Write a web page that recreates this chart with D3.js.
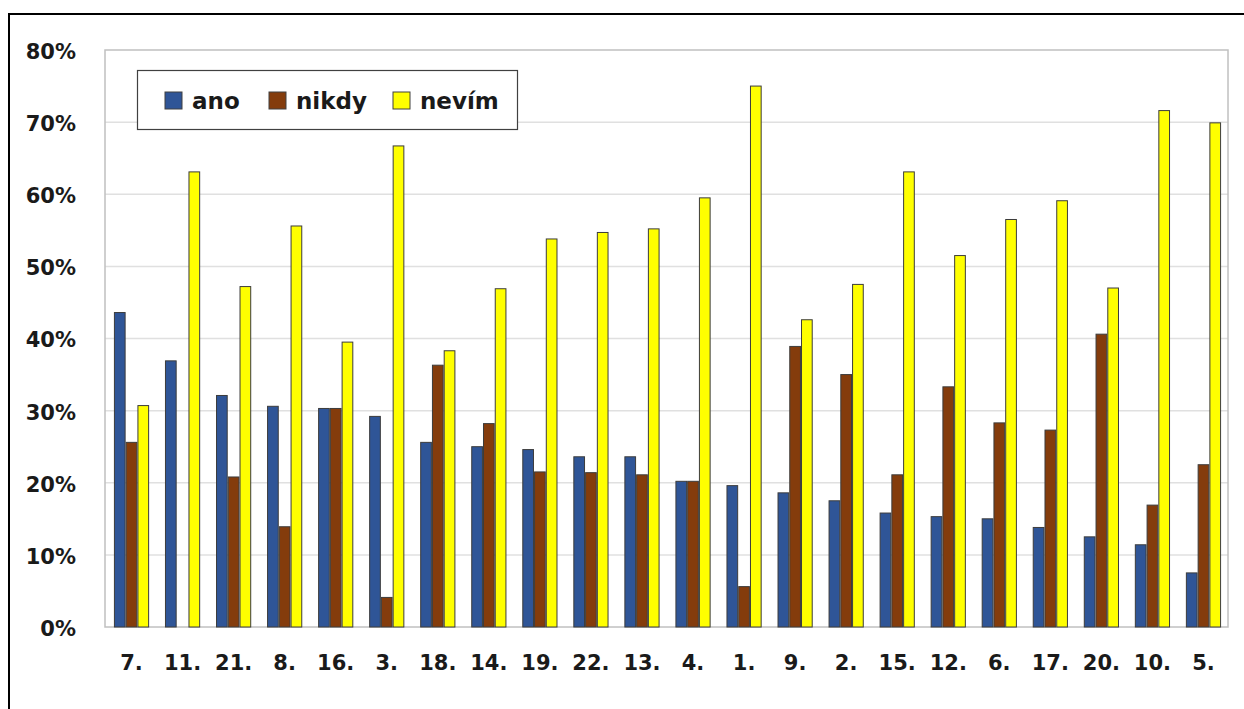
<!DOCTYPE html>
<html><head><meta charset="utf-8">
<script src="https://cdn.jsdelivr.net/npm/d3@7"></script>
<style>
html,body{margin:0;padding:0;background:#fff;}
svg{display:block;}
text{font-family:"DejaVu Sans",Verdana,sans-serif;font-weight:bold;fill:#1a1a1a;}
</style></head>
<body>
<svg id="chart" width="1244" height="709"></svg>
<script>
const categories = ["7.","11.","21.","8.","16.","3.","18.","14.","19.","22.","13.","4.","1.","9.","2.","15.","12.","6.","17.","20.","10.","5."];
const ano   = [43.6,36.9,32.1,30.6,30.3,29.2,25.6,25.0,24.6,23.6,23.6,20.2,19.6,18.6,17.5,15.8,15.3,15.0,13.8,12.5,11.4,7.5];
const nikdy = [25.6,0,20.8,13.9,30.3,4.1,36.3,28.2,21.5,21.4,21.1,20.2,5.6,38.9,35.0,21.1,33.3,28.3,27.3,40.6,16.9,22.5];
const nevim = [30.7,63.1,47.2,55.6,39.5,66.7,38.3,46.9,53.8,54.7,55.2,59.5,75.0,42.6,47.5,63.1,51.5,56.5,59.1,47.0,71.6,69.9];
const seriesNames = ["ano","nikdy","nevím"];
const seriesColors = ["#2F5597","#843C0C","#FFFF00"];
const yTicks = [0,10,20,30,40,50,60,70,80];

const series = [ano, nikdy, nevim];
const svg = d3.select("#chart");
const M = {left:105, right:1228, top:50, bottom:627};

// outer frame
svg.append("rect").attr("x",9).attr("y",14).attr("width",1300).attr("height",800)
  .attr("fill","none").attr("stroke","#000").attr("stroke-width",2);

const y = d3.scaleLinear().domain([0,80]).range([M.bottom, M.top]);
const x0 = d3.scaleBand().domain(categories).range([M.left, M.right]);
const gw = x0.bandwidth()*0.67;
const x1 = d3.scaleBand().domain(seriesNames).range([0, gw]).paddingInner(0.09);

// gridlines
svg.append("g").selectAll("line").data(yTicks.filter(t=>t>0 && t<80)).join("line")
  .attr("x1",M.left).attr("x2",M.right).attr("y1",d=>y(d)).attr("y2",d=>y(d))
  .attr("stroke","#e0e0e0").attr("stroke-width",1.5);

// plot area border
svg.append("rect").attr("x",M.left).attr("y",M.top).attr("width",M.right-M.left).attr("height",M.bottom-M.top)
  .attr("fill","none").attr("stroke","#c0c0c0").attr("stroke-width",1.5);

// y axis
const yAxis = d3.axisLeft(y).tickValues(yTicks).tickFormat(d=>d+"%").tickSize(0).tickPadding(0);
const yg = svg.append("g").attr("transform",`translate(76,0)`).call(yAxis);
yg.select(".domain").remove();
yg.selectAll("text").style("font-size","21px").attr("dy","0.4em");

// x axis
const xAxis = d3.axisBottom(x0).tickSize(0).tickPadding(0);
const xg = svg.append("g").attr("transform",`translate(1,${M.bottom+28})`).call(xAxis);
xg.select(".domain").remove();
xg.selectAll("text").style("font-size","21px").attr("dy","0.71em");

// bars
const groups = svg.append("g").selectAll("g").data(categories).join("g")
  .attr("transform",d=>`translate(${x0(d)+(x0.bandwidth()-gw)/2+1},0)`);
groups.selectAll("rect").data((c,i)=>seriesNames.map((s,j)=>({s, v:series[j][i], c:seriesColors[j]})))
  .join("rect")
  .filter(d=>d.v>0)
  .attr("x",d=>x1(d.s)).attr("width",x1.bandwidth())
  .attr("y",d=>y(d.v)).attr("height",d=>y(0)-y(d.v))
  .attr("fill",d=>d.c).attr("stroke","#3c3c3c").attr("stroke-width",1);

// legend
const lg = svg.append("g");
lg.append("rect").attr("x",137.5).attr("y",70.5).attr("width",380).attr("height",59)
  .attr("fill","#fff").attr("stroke","#404040").attr("stroke-width",1.2);
const legX = [165, 269, 393];
seriesNames.forEach((s,i)=>{
  lg.append("rect").attr("x",legX[i]).attr("y",92).attr("width",17).attr("height",17)
    .attr("fill",seriesColors[i]).attr("stroke","#404040").attr("stroke-width",1);
  lg.append("text").attr("x",legX[i]+27).attr("y",109).style("font-size","23px").text(s);
});
</script>
</body></html>
